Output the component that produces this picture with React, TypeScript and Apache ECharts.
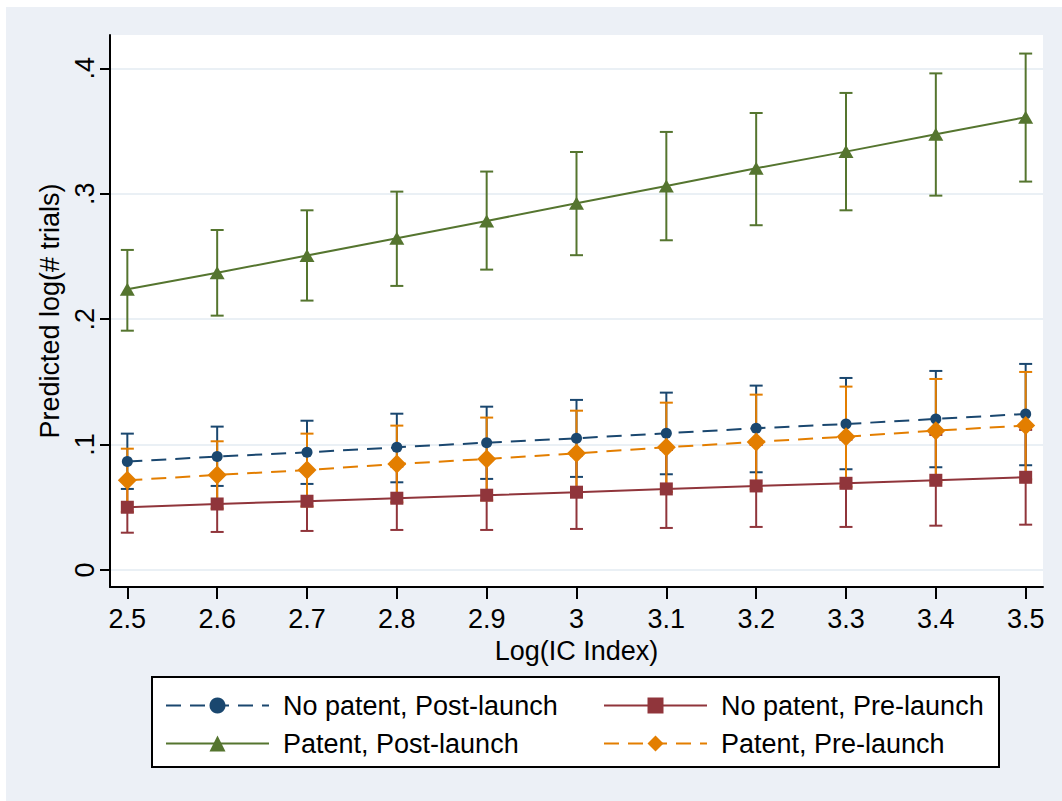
import React, { useEffect, useRef } from "react";
import * as echarts from "echarts";

const xValues = [2.5, 2.6, 2.7, 2.8, 2.9, 3.0, 3.1, 3.2, 3.3, 3.4, 3.5];
const xTicks = [2.5, 2.6, 2.7, 2.8, 2.9, 3.0, 3.1, 3.2, 3.3, 3.4, 3.5];
const yTicks = [0, 0.1, 0.2, 0.3, 0.4];

const noPatentPost = [0.0864, 0.0904, 0.0938, 0.0978, 0.1015, 0.105, 0.109, 0.113, 0.1164, 0.1204, 0.1244];
const noPatentPostHi = [0.1087, 0.1143, 0.119, 0.1246, 0.1302, 0.1356, 0.1414, 0.147, 0.1531, 0.1587, 0.1643];
const noPatentPostLo = [0.0646, 0.067, 0.0686, 0.0699, 0.0726, 0.0742, 0.0763, 0.0779, 0.0803, 0.0819, 0.0835];

const noPatentPre = [0.05, 0.0526, 0.0548, 0.0572, 0.0596, 0.062, 0.0646, 0.067, 0.0691, 0.0715, 0.0739];
const noPatentPreLo = [0.0297, 0.0303, 0.0311, 0.0319, 0.0319, 0.0327, 0.0335, 0.0343, 0.0343, 0.0353, 0.0361];
const noPatentPreHi = [0.0703, 0.0749, 0.0785, 0.0825, 0.0873, 0.0913, 0.0957, 0.0997, 0.1039, 0.1077, 0.1117];

const patentPost = [0.2238, 0.237, 0.2507, 0.2645, 0.2783, 0.2924, 0.3062, 0.3203, 0.3336, 0.3474, 0.361];
const patentPostHi = [0.2552, 0.2711, 0.2868, 0.3017, 0.3177, 0.3333, 0.3493, 0.3644, 0.3804, 0.396, 0.4118];
const patentPostLo = [0.1908, 0.2028, 0.2148, 0.2265, 0.2395, 0.251, 0.2629, 0.2749, 0.2868, 0.2985, 0.3097];

const patentPre = [0.0715, 0.0758, 0.0797, 0.0845, 0.0885, 0.093, 0.0978, 0.1021, 0.1063, 0.1111, 0.1151];
const patentPreHi = [0.0967, 0.1026, 0.1087, 0.1151, 0.1215, 0.127, 0.1334, 0.1398, 0.1462, 0.1523, 0.1579];
const patentPreLo = [0.0463, 0.049, 0.0507, 0.0539, 0.0555, 0.059, 0.0622, 0.0644, 0.0664, 0.0699, 0.0723];

const NAVY = "#1a476f";
const MAROON = "#90353b";
const GREEN = "#55752f";
const ORANGE = "#e37e00";
const FONT = "'Liberation Sans', Arial, sans-serif";

function errorSeries(name: string, lo: number[], hi: number[], color: string, z: number) {
  return {
    type: "custom",
    name,
    silent: true,
    z,
    data: xValues.map((x, i) => [x, lo[i], hi[i]]),
    encode: { x: 0, y: [1, 2] },
    renderItem: (params: any, api: any) => {
      const x = api.value(0);
      const l = api.coord([x, api.value(1)]);
      const h = api.coord([x, api.value(2)]);
      const cw = 6.5;
      const st = { stroke: color, lineWidth: 2 };
      return {
        type: "group",
        children: [
          { type: "line", shape: { x1: l[0], y1: l[1], x2: h[0], y2: h[1] }, style: st },
          { type: "line", shape: { x1: l[0] - cw, y1: l[1], x2: l[0] + cw, y2: l[1] }, style: st },
          { type: "line", shape: { x1: h[0] - cw, y1: h[1], x2: h[0] + cw, y2: h[1] }, style: st },
        ],
      };
    },
  };
}

function lineSeries(name: string, vals: number[], color: string, symbol: string, size: any, dashed: boolean, z: number) {
  return {
    type: "line",
    name,
    z,
    data: xValues.map((x, i) => [x, vals[i]]),
    symbol,
    symbolSize: size,
    showAllSymbol: true,
    itemStyle: { color, opacity: 1 },
    lineStyle: { color, width: 2, type: dashed ? [15, 9] : "solid" },
    emphasis: { disabled: true },
  };
}

export default function App() {
  const ref = useRef<HTMLDivElement>(null);
  useEffect(() => {
    if (!ref.current) return;
    const chart = echarts.init(ref.current, undefined, { renderer: "svg" });
    const legendText = { fontFamily: FONT, fontSize: 27, lineHeight: 27, color: "#000", padding: [0, 0, 0, 9] };
    const legendCommon = {
      orient: "vertical",
      top: 692,
      itemWidth: 103,
      itemHeight: 20,
      itemGap: 11,
      padding: 0,
      selectedMode: false,
      textStyle: legendText,
    };
    chart.setOption({
      animation: false,
      backgroundColor: "transparent",
      textStyle: { fontFamily: FONT },
      grid: {
        left: 110,
        right: 19,
        top: 35,
        bottom: 214,
        show: true,
        backgroundColor: "#ffffff",
        borderWidth: 0,
      },
      xAxis: {
        type: "value",
        min: 2.4807,
        max: 3.5193,
        name: "Log(IC Index)",
        nameLocation: "middle",
        nameGap: 50,
        nameTextStyle: { fontFamily: FONT, fontSize: 27, color: "#000" },
        axisLine: { show: true, onZero: false, lineStyle: { color: "#000", width: 2 } },
        axisTick: { show: true, length: 12, customValues: xTicks, lineStyle: { color: "#000", width: 2 } },
        axisLabel: {
          customValues: xTicks,
          margin: 18,
          fontFamily: FONT,
          fontSize: 27,
          color: "#000",
          formatter: (v: number) => String(Number(v.toFixed(1))),
        },
        splitLine: { show: false },
      },
      yAxis: {
        type: "value",
        min: -0.0136,
        max: 0.4266,
        name: "Predicted log(# trials)",
        nameLocation: "middle",
        nameRotate: 90,
        nameGap: 44,
        nameTextStyle: { fontFamily: FONT, fontSize: 27, color: "#000" },
        axisLine: { show: true, onZero: false, lineStyle: { color: "#000", width: 2 } },
        axisTick: { show: true, length: 10, customValues: yTicks, lineStyle: { color: "#000", width: 2 } },
        axisLabel: {
          customValues: yTicks,
          rotate: 90,
          margin: 12,
          fontFamily: FONT,
          fontSize: 27,
          color: "#000",
          formatter: (v: number) => (Math.abs(v) < 1e-9 ? "0" : "." + Math.round(v * 10)),
        },
        splitLine: { show: true, lineStyle: { color: "#eaf0f5", width: 2 } },
      },
      graphic: [
        {
          type: "rect",
          z: 0,
          shape: { x: 152, y: 677, width: 847, height: 90 },
          style: { fill: "#ffffff", stroke: "#000000", lineWidth: 2 },
        },
      ],
      legend: [
        { ...legendCommon, left: 165, data: ["No patent, Post-launch", "Patent, Post-launch"] },
        { ...legendCommon, left: 603, data: ["No patent, Pre-launch", "Patent, Pre-launch"] },
      ],
      series: [
        errorSeries("ci1", noPatentPostLo, noPatentPostHi, NAVY, 1),
        errorSeries("ci2", noPatentPreLo, noPatentPreHi, MAROON, 1),
        errorSeries("ci3", patentPostLo, patentPostHi, GREEN, 1),
        errorSeries("ci4", patentPreLo, patentPreHi, ORANGE, 1),
        lineSeries("No patent, Post-launch", noPatentPost, NAVY, "circle", 11, true, 3),
        lineSeries("No patent, Pre-launch", noPatentPre, MAROON, "rect", 13, false, 3),
        lineSeries("Patent, Post-launch", patentPost, GREEN, "triangle", [15, 13], false, 3),
        lineSeries("Patent, Pre-launch", patentPre, ORANGE, "diamond", [19, 19], true, 3),
      ],
    });
    return () => chart.dispose();
  }, []);
  return (
    <div style={{ position: "absolute", left: 0, top: 0, width: 1062, height: 801, background: "#ffffff" }}>
      <div style={{ position: "absolute", left: 6, top: 7, width: 1056, height: 794, background: "#ecf0f6" }} />
      <div ref={ref} style={{ position: "absolute", left: 0, top: 0, width: 1062, height: 801 }} />
    </div>
  );
}
